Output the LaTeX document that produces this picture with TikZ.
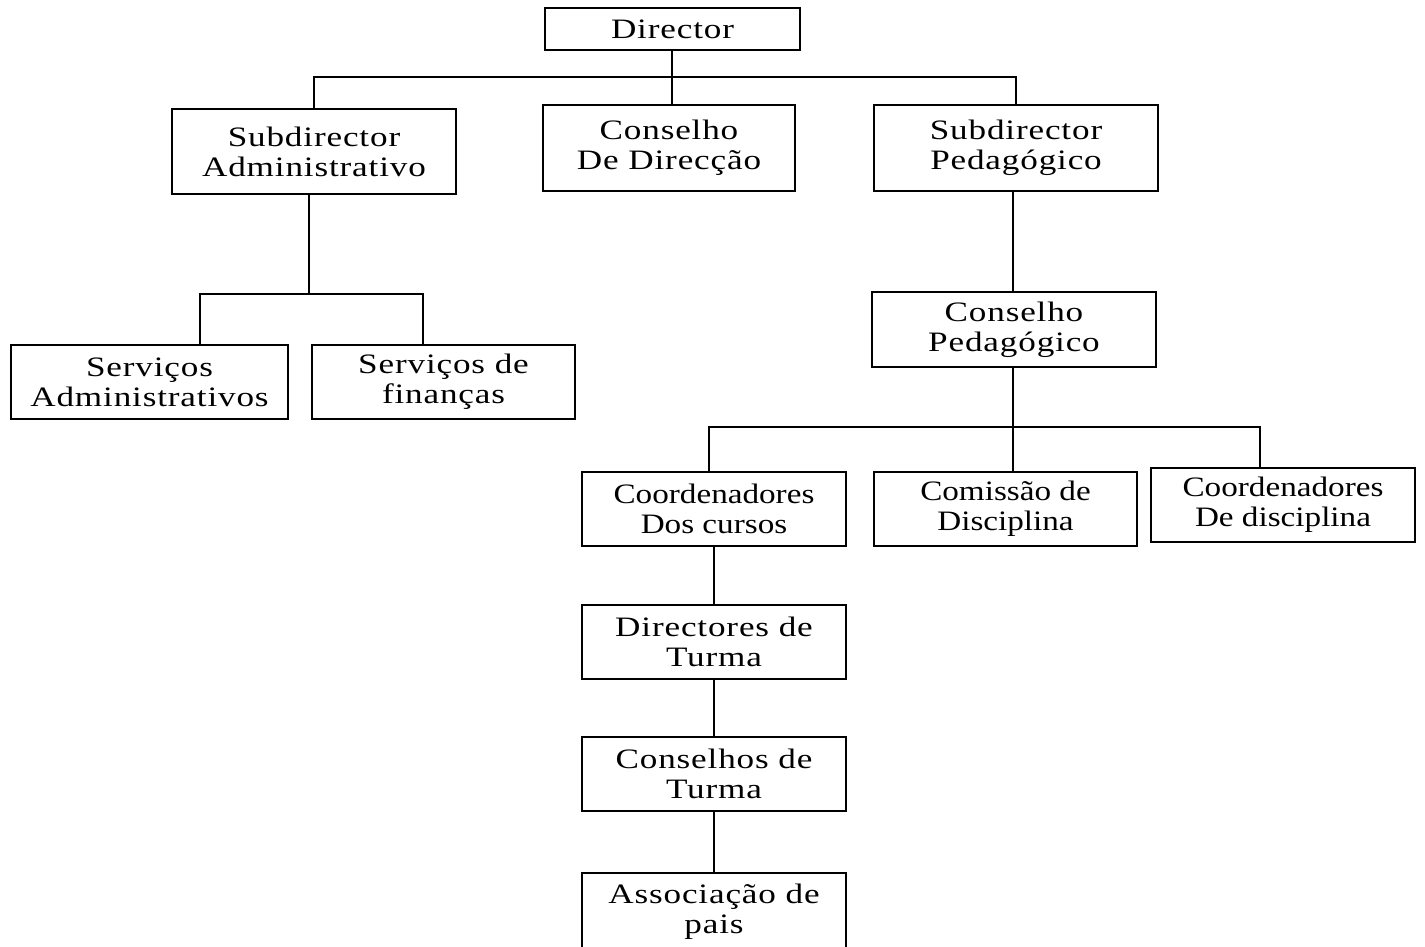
\documentclass[tikz,border=0pt]{standalone}
\usepackage{fontspec}
\newfontfamily\boxfont[FakeStretch=1.25, LetterSpace=3]{Liberation Serif}
\newfontfamily\tightfont[FakeStretch=1.18]{Liberation Serif}
\begin{document}
\begin{tikzpicture}[
    x=0.02cm, y=-0.02cm,
    line width=1.1pt,
    font={\boxfont\fontsize{16}{17}\selectfont},
    unit/.style={draw, align=center, inner sep=0pt},
    tight/.style={font={\tightfont\fontsize{16}{17}\selectfont}},
]
\useasboundingbox (0,0) rectangle (1425,946);

% Top level
\node[unit, minimum width=5.1cm, minimum height=0.84cm] (dir) at (672.5,29) {Director};

% Second level
\node[unit, minimum width=5.68cm, minimum height=1.7cm] (subadm) at (314,151.5) {Subdirector\\Administrativo};
\node[unit, minimum width=5.04cm, minimum height=1.72cm] (consdir) at (669,148) {Conselho\\De Direcção};
\node[unit, minimum width=5.68cm, minimum height=1.72cm] (subped) at (1016,148) {Subdirector\\Pedagógico};

% Administrative branch
\node[unit, minimum width=5.54cm, minimum height=1.48cm] (servadm) at (149.5,382) {Serviços\\Administrativos};
\node[unit, minimum width=5.26cm, minimum height=1.48cm] (servfin) at (443.5,382) {Serviços de\\finanças};

% Pedagogical branch
\node[unit, minimum width=5.68cm, minimum height=1.5cm] (consped) at (1014,329.5) {Conselho\\Pedagógico};
\node[unit, tight, minimum width=5.28cm, minimum height=1.48cm] (coordcur) at (714,509) {Coordenadores\\Dos cursos};
\node[unit, tight, minimum width=5.26cm, minimum height=1.48cm] (comdisc) at (1005.5,509) {Comissão de\\Disciplina};
\node[unit, tight, line width=1.6pt, minimum width=5.28cm, minimum height=1.48cm] (coorddisc) at (1283,505) {Coordenadores\\De disciplina};

% Chain below the course coordinators
\node[unit, minimum width=5.28cm, minimum height=1.48cm] (dirturma) at (714,642) {Directores de\\Turma};
\node[unit, minimum width=5.28cm, minimum height=1.48cm] (consturma) at (714,774) {Conselhos de\\Turma};
\node[unit, minimum width=5.28cm, minimum height=1.54cm] (assoc) at (714,911.5) {Associação de\\pais};

% Junction points
\coordinate (bustop) at (672,77);
\coordinate (busadm) at (309,294);
\coordinate (busadml) at (200,294);
\coordinate (busadmr) at (423,294);
\coordinate (busped) at (1013,427);
\coordinate (buspedl) at (709,427);
\coordinate (buspedr) at (1260,427);

% Connectors
\draw (bustop |- dir.south) -- (bustop) -- (bustop |- consdir.north);
\draw (subadm.north) |- (bustop) -| (subped.north);

\draw (busadm |- subadm.south) -- (busadm);
\draw (busadml |- servadm.north) -- (busadml) -- (busadmr) -- (busadmr |- servfin.north);

\draw (busped |- subped.south) -- (busped |- consped.north);

\draw (busped |- consped.south) -- (busped |- comdisc.north);
\draw (buspedl |- coordcur.north) -- (buspedl) -- (buspedr) -- (buspedr |- coorddisc.north);

\draw (coordcur.south) -- (dirturma.north);
\draw (dirturma.south) -- (consturma.north);
\draw (consturma.south) -- (assoc.north);

\end{tikzpicture}
\end{document}
